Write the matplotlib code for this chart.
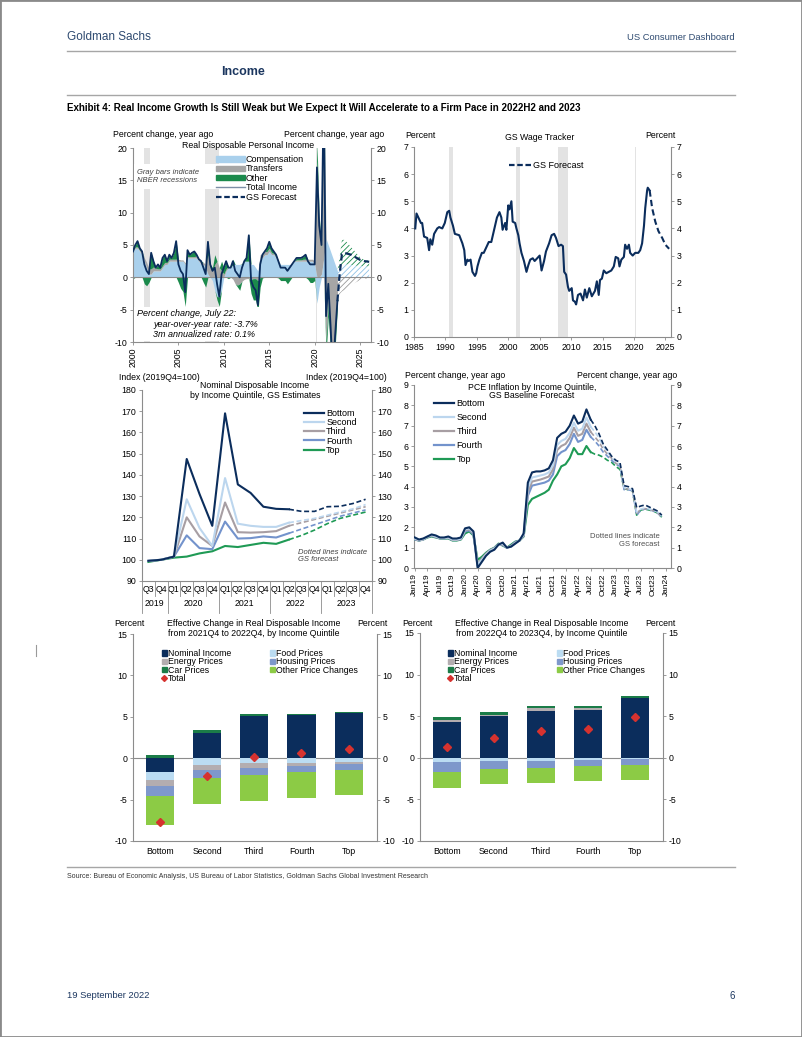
import numpy as np
import matplotlib
matplotlib.use('Agg')
import matplotlib.pyplot as plt
from matplotlib import font_manager
from matplotlib.patches import Rectangle, Patch
from matplotlib.lines import Line2D

plt.rcParams['font.family'] = ['Liberation Sans', 'DejaVu Sans']
plt.rcParams['font.size'] = 6.3
plt.rcParams['hatch.linewidth'] = 0.6
plt.rcParams['axes.unicode_minus'] = False

W, H = 802, 1037
NAVY = '#0B2D5C'
AXC = '#8C8C8C'
REC = '#E3E3E3'


def narrow_family():
    # the page headers use a condensed face; shrink a normal one if none is installed
    for name in ['Liberation Sans Narrow', 'Arial Narrow']:
        try:
            font_manager.findfont(font_manager.FontProperties(family=name), fallback_to_default=False)
            return [name, 'DejaVu Sans'], 1.0
        except ValueError:
            pass
    return ['Liberation Sans', 'DejaVu Sans'], 0.82


HEAD, HSCALE = narrow_family()

# ---------------- data: real disposable personal income (contributions, % yoy)
rdi_year = np.arange(2000, 2022.51, 0.25)
rdi_total = [4.0, 5.0, 5.6, 4.5, 4.0, 2.0, 1.0, 0.5, 3.8, 2.5, 1.5, 2.0,
             1.5, 3.0, 3.5, 2.5, 3.5, 3.0, 3.8, 5.6, 2.0, 1.0, 0.5, -2.3,
             4.2, 3.5, 3.8, 4.0, 3.5, 2.8, 2.5, 1.5, 0.5, 5.5, 2.0, 1.0,
             1.5, -1.0, -3.0, 0.5, 1.5, 2.5, 1.5, 1.5, 2.5, 1.0, 0.5, 0.0,
             1.5, 2.5, 3.0, 6.5, -0.5, -1.5, -2.0, -4.3, 2.0, 3.5, 4.0, 4.5,
             5.5, 4.5, 4.0, 3.5, 2.5, 1.5, 1.5, 1.5, 1.0, 1.5, 2.0, 2.5,
             3.0, 3.0, 3.0, 3.2, 3.5, 2.5, 2.0, 2.0, 2.0, 17.0, 8.0, 5.0,
             29.0, -6.0, -1.0, -7.5, -15.0, -9.0, -3.7]
rdi_comp = [4.0, 4.5, 4.5, 4.0, 3.5, 2.5, 1.5, 0.5, 0.5, 1.0, 1.0, 1.0,
            1.0, 1.5, 2.0, 2.0, 2.5, 2.5, 2.5, 2.5, 2.5, 2.5, 2.5, 2.0,
            3.0, 3.0, 3.0, 3.0, 3.0, 2.5, 2.0, 2.0, 1.5, 0.5, 0.0, -0.5,
            -2.0, -3.0, -3.0, -2.0, 0.0, 1.0, 1.5, 1.5, 2.0, 2.0, 2.0, 2.0,
            2.0, 2.5, 2.5, 2.5, 2.0, 2.0, 1.5, 1.0, 3.0, 3.0, 3.5, 3.5,
            4.0, 3.5, 3.5, 3.0, 2.5, 2.0, 2.0, 2.0, 2.0, 2.0, 2.0, 2.5,
            2.5, 2.5, 2.5, 2.5, 2.5, 2.5, 2.5, 2.5, 2.0, -4.0, -1.5, 0.5,
            3.0, 6.0, 5.0, 4.0, 3.0, 2.0, 1.0]
rdi_transfers = [0.2, 0.2, 0.2, 0.2, 0.3, 0.5, 0.8, 0.8, 0.8, 0.6, 0.4, 0.3,
                 0.3, 0.3, 0.3, 0.3, 0.3, 0.3, 0.3, 0.3, 0.3, 0.2, 0.2, 0.2,
                 0.2, 0.2, 0.2, 0.2, 0.3, 0.3, 0.3, 0.3, 0.5, 3.0, 1.5, 1.0,
                 2.0, 2.5, 1.5, 1.0, 0.5, 0.3, 0.2, 0.0, -0.3, -1.0, -1.2, -1.0,
                 -0.6, -0.3, -0.2, -0.2, -0.3, -0.2, -0.2, -0.5, 0.5, 0.6, 0.5, 0.5,
                 0.5, 0.3, 0.2, 0.2, 0.1, 0.0, 0.0, 0.0, 0.0, 0.0, 0.0, 0.0,
                 0.2, 0.2, 0.2, 0.3, 0.3, 0.3, 0.3, 0.3, 0.5, 18.0, 8.5, 4.0,
                 24.0, -10.0, -4.0, -9.0, -15.0, -8.0, -3.0]
rdi_fc_year = np.arange(2022.5, 2026.01, 0.25)
rdi_fc_total = [-3.7, 0.5, 3.6, 3.8, 3.7, 3.6, 3.5, 3.3, 3.1, 2.9, 2.7, 2.6, 2.5, 2.45, 2.4]
rdi_fc_comp = [1.0, 1.6, 2.0, 2.0, 2.0, 2.0, 1.9, 1.9, 1.8, 1.8, 1.8, 1.7, 1.7, 1.7, 1.7]
rdi_fc_transfers = [-3.0, -2.6, -2.2, -2.0, -1.8, -1.5, -1.2, -1.0, -0.8, -0.6, -0.4, -0.3, -0.2, -0.2, -0.1]
recessions = [(2001.2, 2001.85), (2007.95, 2009.45), (2020.1, 2020.3)]
recessions_long = [(1990.55, 1991.2), (2001.2, 2001.85), (2007.95, 2009.45), (2020.1, 2020.35)]

# ---------------- data: GS wage tracker
wage_year = [1985.2, 1985.4, 1985.7, 1986.1, 1986.3, 1986.6, 1987.1, 1987.4, 1987.6, 1987.9,
             1988.2, 1988.7, 1989.0, 1989.5, 1989.9, 1990.3, 1990.6, 1990.8, 1991.2, 1991.5,
             1992.2, 1992.7, 1993.0, 1993.2, 1993.5, 1993.7, 1994.0, 1994.3, 1994.7, 1994.9,
             1995.1, 1995.4, 1995.8, 1996.1, 1996.5, 1996.9, 1997.3, 1997.7, 1998.2, 1998.6,
             1998.9, 1999.1, 1999.5, 1999.7, 2000.0, 2000.2, 2000.5, 2000.7, 2001.1, 2001.3,
             2001.6, 2001.8, 2002.1, 2002.5, 2002.9, 2003.2, 2003.5, 2003.9, 2004.2, 2004.6,
             2005.0, 2005.3, 2005.7, 2006.0, 2006.5, 2006.9, 2007.3, 2007.6, 2008.0, 2008.4,
             2008.7, 2008.9, 2009.2, 2009.5, 2009.7, 2010.1, 2010.3, 2010.6, 2010.8, 2011.1,
             2011.5, 2011.9, 2012.2, 2012.5, 2012.9, 2013.3, 2013.8, 2014.1, 2014.4, 2014.6,
             2014.9, 2015.2, 2015.6, 2016.0, 2016.4, 2016.8, 2017.1, 2017.5, 2017.7, 2018.0,
             2018.4, 2018.6, 2018.9, 2019.2, 2019.4, 2019.8, 2020.2, 2020.7, 2021.0, 2021.3,
             2021.6, 2021.8, 2022.1, 2022.2, 2022.5]
wage_pct = [4.0, 4.55, 4.4, 4.2, 4.2, 3.7, 3.65, 3.2, 3.6, 3.4,
            3.8, 4.0, 4.05, 4.0, 4.2, 4.6, 4.65, 4.4, 4.1, 3.8,
            3.75, 3.45, 3.2, 2.65, 2.85, 2.8, 2.85, 2.4, 2.25, 2.35,
            2.6, 2.85, 3.1, 3.1, 3.3, 3.5, 3.5, 3.9, 4.4, 4.6,
            4.4, 3.95, 4.2, 3.95, 4.85, 4.7, 5.0, 4.25, 4.2, 4.0,
            3.75, 3.45, 3.1, 2.8, 2.4, 2.65, 2.85, 2.9, 2.8, 2.9,
            3.0, 2.45, 2.8, 3.15, 3.45, 3.75, 3.8, 3.65, 3.35, 3.4,
            3.35, 2.4, 2.3, 1.85, 1.7, 1.8, 1.35, 1.3, 1.2, 1.55,
            1.6, 1.35, 1.75, 1.45, 1.8, 1.5, 1.7, 2.05, 1.55, 2.1,
            2.15, 2.45, 2.35, 2.4, 2.45, 2.6, 2.95, 2.9, 2.6, 2.85,
            2.95, 3.4, 3.25, 3.4, 3.1, 3.0, 3.1, 3.1, 3.2, 3.45,
            4.1, 4.75, 5.4, 5.5, 5.4]
wage_fc_year = [2022.5, 2022.9, 2023.4, 2023.9, 2024.5, 2025.0, 2025.6]
wage_fc_pct = [5.4, 4.75, 4.25, 3.9, 3.65, 3.4, 3.25]

# ---------------- data: nominal disposable income by quintile (2019Q4=100)
quarters = ['Q3', 'Q4', 'Q1', 'Q2', 'Q3', 'Q4', 'Q1', 'Q2', 'Q3', 'Q4',
            'Q1', 'Q2', 'Q3', 'Q4', 'Q1', 'Q2', 'Q3', 'Q4']
years = ['2019', '2020', '2021', '2022', '2023']
year_bounds = [0, 2, 6, 10, 14, 18]
ndi_bottom = [99.5, 100, 101.5, 147.5, 131, 116, 169, 135.5, 131.5, 125, 124, 123.8, 122.8, 122.8, 125, 125.2, 126.5, 128.5]
ndi_second = [99.5, 100, 101.5, 128.5, 115, 106.5, 138.5, 117, 116, 115.5, 115.5, 117.5, 118.5, 119.5, 121, 122.5, 124, 126]
ndi_third = [99.5, 100, 101.5, 120, 111, 106.5, 127, 113, 112.8, 113, 113.5, 116, 117.5, 119, 120.5, 122, 123.5, 125]
ndi_fourth = [99.5, 100, 101.5, 111.5, 105.5, 105, 118, 110, 110.2, 111, 110.5, 112.5, 114.5, 116.5, 118.5, 120.5, 122, 123.5]
ndi_top = [99, 100, 101, 101.5, 103, 104, 106.5, 106, 107, 108, 107.5, 109.5, 111.5, 114, 117, 119.5, 121, 122.5]
ndi_last_actual = 11

# ---------------- data: PCE inflation by income quintile (monthly Jan19..Dec23)
pce_ticks = ['Jan19', 'Apr19', 'Jul19', 'Oct19', 'Jan20', 'Apr20', 'Jul20', 'Oct20', 'Jan21',
             'Apr21', 'Jul21', 'Oct21', 'Jan22', 'Apr22', 'Jul22', 'Oct22', 'Jan23', 'Apr23',
             'Jul23', 'Oct23', 'Jan24']
pce_bottom = [1.5, 1.4, 1.45, 1.55, 1.65, 1.6, 1.5, 1.5, 1.55, 1.45, 1.45, 1.5,
              1.95, 2.0, 1.8, 0.0, 0.3, 0.6, 0.8, 0.9, 1.15, 1.25, 1.0, 1.05,
              1.2, 1.35, 1.7, 4.2, 4.7, 4.75, 4.75, 4.8, 4.9, 5.3, 6.4, 6.6,
              6.7, 7.0, 7.5, 7.1, 7.2, 7.8, 7.3, 7.0, 6.6, 6.1, 5.8, 5.5,
              5.3, 5.2, 4.05, 4.0, 3.9, 2.97, 3.05, 3.1, 3.0, 2.9, 2.8, 2.6]
pce_second = [1.45, 1.38, 1.42, 1.55, 1.62, 1.55, 1.48, 1.48, 1.5, 1.4, 1.4, 1.45,
              1.9, 1.95, 1.75, 0.15, 0.4, 0.65, 0.85, 0.95, 1.15, 1.2, 1.0, 1.05,
              1.22, 1.35, 1.65, 3.95, 4.45, 4.5, 4.55, 4.6, 4.7, 5.05, 6.05, 6.25,
              6.35, 6.65, 7.15, 6.75, 6.85, 7.4, 6.95, 6.7, 6.4, 6.0, 5.7, 5.45,
              5.2, 5.1, 3.95, 3.9, 3.85, 2.75, 2.9, 2.95, 2.9, 2.85, 2.75, 2.55]
pce_third = [1.42, 1.36, 1.41, 1.53, 1.6, 1.53, 1.47, 1.47, 1.48, 1.38, 1.38, 1.43,
             1.85, 1.9, 1.7, 0.2, 0.45, 0.7, 0.87, 0.97, 1.17, 1.15, 1.0, 1.08,
             1.25, 1.35, 1.6, 3.75, 4.25, 4.3, 4.35, 4.42, 4.5, 4.85, 5.8, 6.0,
             6.1, 6.4, 6.9, 6.5, 6.6, 7.1, 6.7, 6.45, 6.2, 5.85, 5.6, 5.4,
             5.15, 5.05, 3.9, 3.88, 3.82, 2.7, 2.88, 2.92, 2.88, 2.82, 2.72, 2.52]
pce_fourth = [1.4, 1.35, 1.4, 1.52, 1.58, 1.52, 1.46, 1.46, 1.47, 1.37, 1.37, 1.42,
              1.8, 1.85, 1.65, 0.1, 0.45, 0.7, 0.88, 0.98, 1.18, 1.12, 1.0, 1.1,
              1.28, 1.35, 1.58, 3.55, 4.05, 4.1, 4.15, 4.2, 4.3, 4.6, 5.5, 5.7,
              5.8, 6.1, 6.6, 6.2, 6.3, 6.8, 6.45, 6.25, 6.0, 5.7, 5.5, 5.3,
              5.1, 5.0, 3.85, 3.85, 3.8, 2.6, 2.85, 2.9, 2.87, 2.8, 2.7, 2.5]
pce_top = [1.4, 1.35, 1.4, 1.5, 1.55, 1.5, 1.45, 1.45, 1.45, 1.35, 1.35, 1.4,
           1.7, 1.8, 1.6, 0.4, 0.55, 0.75, 0.9, 1.0, 1.2, 1.1, 1.0, 1.15,
           1.3, 1.35, 1.55, 3.1, 3.4, 3.5, 3.6, 3.7, 3.85, 4.3, 4.6, 5.0,
           5.1, 5.4, 5.9, 5.6, 5.6, 6.0, 5.7, 5.6, 5.55, 5.45, 5.3, 5.2,
           5.0, 4.85, 3.9, 3.85, 3.8, 2.6, 2.85, 2.9, 2.85, 2.8, 2.7, 2.5]
pce_last_actual = 42

# ---------------- data: effective change in real disposable income by quintile
quintiles = ['Bottom', 'Second', 'Third', 'Fourth', 'Top']
eff22_nominal = [-1.65, 3.1, 5.1, 5.22, 5.5]
eff22_food = [-0.95, -0.82, -0.62, -0.54, -0.42]
eff22_energy = [-0.7, -0.6, -0.6, -0.46, -0.32]
eff22_housing = [-1.3, -0.92, -0.8, -0.7, -0.68]
eff22_car = [0.4, 0.3, 0.25, 0.13, 0.07]
eff22_other = [-3.5, -3.18, -3.15, -3.15, -3.06]
eff22_total = [-7.75, -2.15, 0.2, 0.6, 1.1]

eff23_nominal = [4.3, 5.0, 5.68, 5.76, 7.16]
eff23_food = [-0.5, -0.4, -0.4, -0.3, -0.2]
eff23_energy = [0.2, 0.15, 0.28, 0.28, 0.05]
eff23_housing = [-1.2, -0.9, -0.8, -0.65, -0.7]
eff23_car = [0.45, 0.4, 0.24, 0.2, 0.25]
eff23_other = [-1.9, -1.8, -1.77, -1.8, -1.8]
eff23_total = [1.3, 2.4, 3.2, 3.5, 4.9]

QCOLORS = [NAVY, '#BCD6EE', '#A79EA3', '#7393CC', '#1F9A55']
QNAMES = ['Bottom', 'Second', 'Third', 'Fourth', 'Top']
BAR_COLORS = {'Nominal Income': NAVY, 'Food Prices': '#BBDCF2', 'Energy Prices': '#B3ADB0',
              'Housing Prices': '#7E98CB', 'Car Prices': '#1B7C48',
              'Other Price Changes': '#8CCB45'}
RED = '#D6322F'

fig = plt.figure(figsize=(W / 100, H / 100), dpi=100)


def px_axes(l, t, r, b):
    return fig.add_axes([l / W, 1 - b / H, (r - l) / W, (b - t) / H])


def ftext(x, y, s, **kw):
    kw.setdefault('va', 'center')
    fig.text(x / W, 1 - y / H, s, **kw)


def fpos(x, y):
    return (x / W, 1 - y / H)


def hline(y, x0=67, x1=735, c='#A6A6A6', lw=1.0):
    fig.add_artist(Line2D([x0 / W, x1 / W], [1 - y / H, 1 - y / H], color=c, lw=lw))


def style(ax):
    for side in ['left', 'right', 'bottom']:
        ax.spines[side].set_color(AXC)
        ax.spines[side].set_linewidth(0.8)
    ax.spines['top'].set_visible(False)
    ax.tick_params(axis='both', labelsize=6.3, length=2.5, width=0.6, color=AXC, pad=1.5)
    ax.tick_params(axis='y', right=True, labelright=True, direction='out')


def stacked(ax, x, parts, colors, hatch=None, width=None):
    pos = np.zeros(len(x))
    neg = np.zeros(len(x))
    for v, c in zip(parts, colors):
        v = np.asarray(v, dtype=float)
        p = np.clip(v, 0, None)
        n = np.clip(v, None, 0)
        if width is not None:
            ax.bar(x, p, width, bottom=pos, color=c, lw=0, zorder=2)
            ax.bar(x, n, width, bottom=neg, color=c, lw=0, zorder=2)
        elif hatch:
            ax.fill_between(x, pos, pos + p, facecolor='none', edgecolor=c, hatch=hatch, lw=0, zorder=1)
            ax.fill_between(x, neg, neg + n, facecolor='none', edgecolor=c, hatch=hatch, lw=0, zorder=1)
        else:
            ax.fill_between(x, pos, pos + p, color=c, lw=0, zorder=1)
            ax.fill_between(x, neg, neg + n, color=c, lw=0, zorder=1)
        pos += p
        neg += n


# ---------------- page furniture
fig.add_artist(Rectangle((0, 0), 1, 1, transform=fig.transFigure, fill=False,
                         edgecolor='#8A8A8A', lw=2))
ftext(67, 37, 'Goldman Sachs', fontsize=10.3 * HSCALE, color='#2E4A70', family=HEAD)
ftext(735, 38, 'US Consumer Dashboard', fontsize=8.2 * HSCALE, color='#2E4A70', family=HEAD, ha='right')
hline(51)
ftext(221, 72, 'Income', fontsize=11 * HSCALE, color='#1B365F', family=HEAD, fontweight='bold')
hline(95)
ftext(67, 108, 'Exhibit 4: Real Income Growth Is Still Weak but We Expect It Will Accelerate '
      'to a Firm Pace in 2022H2 and 2023', fontsize=8.6 * HSCALE, family=HEAD, fontweight='bold')
hline(867)
ftext(67, 877, 'Source: Bureau of Economic Analysis, US Bureau of Labor Statistics, '
      'Goldman Sachs Global Investment Research', fontsize=6.2 * HSCALE, family=HEAD, color='#333333')
ftext(67, 996, '19 September 2022', fontsize=8.2 * HSCALE, family=HEAD, color='#1B365F')
ftext(735, 996, '6', fontsize=8.5 * HSCALE, family=HEAD, color='#1B365F', ha='right')
fig.add_artist(Line2D([36 / W, 36 / W], [1 - 645 / H, 1 - 656 / H], color='#9A9A9A', lw=0.8))

# ---------------- panel 1: real disposable personal income
ax1 = px_axes(133, 148, 371, 342)
style(ax1)
for a, b in recessions:
    ax1.axvspan(a, b, color=REC, lw=0, zorder=0)
comp = np.array(rdi_comp)
trans = np.array(rdi_transfers)
total = np.array(rdi_total)
c_blue, c_gray, c_green = '#A9D0EC', '#A6A6A6', '#1B8A4C'
stacked(ax1, rdi_year, [comp, trans, total - comp - trans], [c_blue, c_gray, c_green])
fc_comp = np.array(rdi_fc_comp)
fc_trans = np.array(rdi_fc_transfers)
fc_total = np.array(rdi_fc_total)
stacked(ax1, rdi_fc_year, [fc_comp, fc_trans, fc_total - fc_comp - fc_trans],
        ['#8EC2E6', '#9A9A9A', '#1B8A4C'], hatch='//////')
ax1.axhline(0, color=AXC, lw=0.8, zorder=1.5)
ax1.plot(rdi_year, total, color=NAVY, lw=1.3, zorder=3)
ax1.plot(rdi_fc_year, fc_total, color=NAVY, lw=1.6, ls=(0, (3, 1.6)), zorder=3)
ax1.set_xlim(2000, 2026.2)
ax1.set_ylim(-10, 20)
ax1.set_yticks(np.arange(-10, 21, 5))
ax1.set_xticks(np.arange(2000, 2026, 5))
ax1.set_xticklabels([str(y) for y in range(2000, 2026, 5)], rotation=90)
ax1.add_patch(Rectangle((0.005, 0.79), 0.36, 0.13, transform=ax1.transAxes, color='white', zorder=4, lw=0))
ax1.text(0.015, 0.89, 'Gray bars indicate\nNBER recessions', transform=ax1.transAxes,
         fontsize=5.5, style='italic', color='#404040', va='top', linespacing=1.05, zorder=5)
ax1.add_patch(Rectangle((0.005, 0.003), 0.58, 0.175, transform=ax1.transAxes, color='white', zorder=4, lw=0))
ax1.text(0.015, 0.145, 'Percent change, July 22:', transform=ax1.transAxes,
         fontsize=6.5, style='italic', va='center', zorder=5)
ax1.text(0.085, 0.09, 'year-over-year rate: -3.7%', transform=ax1.transAxes,
         fontsize=6.5, style='italic', va='center', zorder=5)
ax1.text(0.085, 0.04, '3m annualized rate: 0.1%', transform=ax1.transAxes,
         fontsize=6.5, style='italic', va='center', zorder=5)
h1 = [Patch(color=c_blue), Patch(color=c_gray), Patch(color=c_green),
      Line2D([], [], color='#7C8EA6', lw=1.0), Line2D([], [], color=NAVY, lw=1.6, ls=(0, (2.5, 1.2)))]
ax1.legend(h1, ['Compensation', 'Transfers', 'Other', 'Total Income', 'GS Forecast'],
           loc='upper left', bbox_to_anchor=fpos(216, 155), bbox_transform=fig.transFigure,
           frameon=False, fontsize=6.5, handlelength=3.2, handleheight=0.55, handletextpad=0.1,
           labelspacing=0.05, borderpad=0, borderaxespad=0)
ftext(113, 134, 'Percent change, year ago', fontsize=6.3)
ftext(384, 134, 'Percent change, year ago', fontsize=6.3, ha='right')
ftext(248, 146, 'Real Disposable Personal Income', fontsize=6.3, ha='center')

# ---------------- panel 2: GS wage tracker
ax2 = px_axes(414, 147, 671, 337)
style(ax2)
for a, b in recessions_long:
    ax2.axvspan(a, b, color=REC, lw=0, zorder=0)
ax2.plot(wage_year, wage_pct, color=NAVY, lw=1.5, zorder=3)
ax2.plot(wage_fc_year, wage_fc_pct, color=NAVY, lw=1.5, ls=(0, (3, 1.6)), zorder=3)
ax2.set_xlim(1985, 2025.9)
ax2.set_ylim(0, 7)
ax2.set_xticks(np.arange(1985, 2026, 5))
ax2.legend([Line2D([], [], color=NAVY, lw=1.6, ls=(0, (2.5, 1.2)))], ['GS Forecast'],
           loc='upper left', bbox_to_anchor=fpos(509, 161), bbox_transform=fig.transFigure,
           frameon=False, fontsize=6.5, handlelength=2.4, handletextpad=0.3, borderpad=0, borderaxespad=0)
ftext(405, 135, 'Percent', fontsize=6.3)
ftext(675, 135, 'Percent', fontsize=6.3, ha='right')
ftext(540, 138, 'GS Wage Tracker', fontsize=6.3, ha='center')

# ---------------- panel 3: nominal disposable income by quintile
ax3 = px_axes(142, 390, 372, 581)
style(ax3)
qx = np.arange(len(quarters))
k = ndi_last_actual
for series, c in zip([ndi_top, ndi_fourth, ndi_third, ndi_second, ndi_bottom], QCOLORS[::-1]):
    ax3.plot(qx[:k + 1], series[:k + 1], color=c, lw=1.5, zorder=3)
    ax3.plot(qx[k:], series[k:], color=c, lw=1.2, ls=(0, (3, 1.6)), zorder=3)
ax3.set_xlim(-0.5, len(quarters) - 0.5)
ax3.set_ylim(90, 180)
ax3.set_yticks(np.arange(90, 181, 10))
ax3.set_xticks(qx)
ax3.set_xticklabels(quarters)
ax3.tick_params(axis='x', length=0, pad=3)
xt = ax3.get_xaxis_transform()
for i in range(len(quarters) + 1):
    tall = i in year_bounds
    ax3.plot([i - 0.5, i - 0.5], [0, -0.165 if tall else -0.08], transform=xt,
             color=AXC, lw=0.6, clip_on=False)
for j, yr in enumerate(years):
    ax3.text((year_bounds[j] + year_bounds[j + 1] - 1) / 2, -0.118, yr, transform=xt,
             ha='center', va='center', fontsize=6.3)
ax3.legend([Line2D([], [], color=c, lw=1.6) for c in QCOLORS], QNAMES,
           loc='upper left', bbox_to_anchor=fpos(304, 409), bbox_transform=fig.transFigure,
           frameon=False, fontsize=6.5, handlelength=2.2, handletextpad=0.25,
           labelspacing=0.02, borderpad=0, borderaxespad=0)
ax3.text(0.68, 0.13, 'Dotted lines indicate\nGS forecast', transform=ax3.transAxes,
         fontsize=5.5, style='italic', color='#404040', va='center', linespacing=1.1)
ftext(119, 377, 'Index (2019Q4=100)', fontsize=6.3)
ftext(387, 377, 'Index (2019Q4=100)', fontsize=6.3, ha='right')
ftext(255, 386, 'Nominal Disposable Income', fontsize=6.3, ha='center')
ftext(255, 395, 'by Income Quintile, GS Estimates', fontsize=6.3, ha='center')

# ---------------- panel 4: PCE inflation by income quintile
ax4 = px_axes(414, 385, 671, 568)
style(ax4)
mx = np.arange(len(pce_top))
k = pce_last_actual
for series, c in zip([pce_top, pce_fourth, pce_third, pce_second, pce_bottom], QCOLORS[::-1]):
    ax4.plot(mx[:k + 1], series[:k + 1], color=c, lw=1.5, zorder=3)
    ax4.plot(mx[k:], series[k:], color=c, lw=1.2, ls=(0, (3, 1.6)), zorder=3)
ax4.set_xlim(-0.2, 61.2)
ax4.set_ylim(0, 9)
ax4.set_yticks(np.arange(0, 10, 1))
ax4.set_xticks(np.arange(0, 61, 3))
ax4.set_xticklabels(pce_ticks, rotation=90, fontsize=6)
ax4.legend([Line2D([], [], color=c, lw=1.6) for c in QCOLORS], QNAMES,
           loc='upper left', bbox_to_anchor=fpos(434, 399), bbox_transform=fig.transFigure,
           frameon=False, fontsize=6.5, handlelength=2.2, handletextpad=0.3,
           labelspacing=0.55, borderpad=0, borderaxespad=0)
ax4.text(0.955, 0.15, 'Dotted lines indicate\nGS forecast', transform=ax4.transAxes,
         fontsize=5.5, color='#505050', va='center', ha='right', linespacing=1.05)
ftext(405, 376, 'Percent change, year ago', fontsize=6.3)
ftext(677, 376, 'Percent change, year ago', fontsize=6.3, ha='right')
ftext(532, 387, 'PCE Inflation by Income Quintile,', fontsize=6.3, ha='center')
ftext(532, 396, 'GS Baseline Forecast', fontsize=6.3, ha='center')


# ---------------- panels 5 and 6: effective change in real disposable income
def bar_panel(box, parts, totals, period, title_x, left_lab, right_lab, leg1_x, leg2_x):
    ax = px_axes(*box)
    style(ax)
    bx = np.arange(len(quintiles))
    names = list(BAR_COLORS)
    ax.axhline(0, color=AXC, lw=0.8, zorder=1)
    stacked(ax, bx, parts, [BAR_COLORS[n] for n in names], width=0.6)
    ax.plot(bx, totals, ls='none', marker='D', ms=4.2, color=RED, zorder=4)
    ax.set_xlim(-0.57, 4.6)
    ax.set_ylim(-10, 15)
    ax.set_yticks(np.arange(-10, 16, 5))
    ax.set_xticks(bx)
    ax.set_xticklabels(quintiles)
    ax.tick_params(axis='x', length=0, pad=4)
    sq = dict(handlelength=0.55, handleheight=0.55, handletextpad=0.1, labelspacing=-0.08,
              frameon=False, fontsize=6.3, borderpad=0, borderaxespad=0, loc='upper left',
              bbox_transform=fig.transFigure)
    col1 = ['Nominal Income', 'Energy Prices', 'Car Prices']
    h = [Patch(color=BAR_COLORS[n]) for n in col1]
    h.append(Line2D([], [], ls='none', marker='D', ms=3, color=RED))
    leg = ax.legend(h, col1 + ['Total'], bbox_to_anchor=fpos(leg1_x, 649), **sq)
    ax.add_artist(leg)
    col2 = ['Food Prices', 'Housing Prices', 'Other Price Changes']
    ax.legend([Patch(color=BAR_COLORS[n]) for n in col2], col2,
              bbox_to_anchor=fpos(leg2_x, 649), **sq)
    ftext(left_lab, 624, 'Percent', fontsize=6.3)
    ftext(right_lab, 624, 'Percent', fontsize=6.3, ha='right')
    ftext(title_x, 624, 'Effective Change in Real Disposable Income', fontsize=6.3, ha='center')
    ftext(title_x, 633, period + ', by Income Quintile', fontsize=6.3, ha='center')
    return ax


bar_panel((133, 634, 377, 841),
          [eff22_nominal, eff22_food, eff22_energy, eff22_housing, eff22_car, eff22_other],
          eff22_total, 'from 2021Q4 to 2022Q4', 254, 114, 388, 162, 270)
bar_panel((420, 633, 663, 841),
          [eff23_nominal, eff23_food, eff23_energy, eff23_housing, eff23_car, eff23_other],
          eff23_total, 'from 2022Q4 to 2023Q4', 542, 402, 675, 448, 557)

fig.savefig('out.png', dpi=100)
